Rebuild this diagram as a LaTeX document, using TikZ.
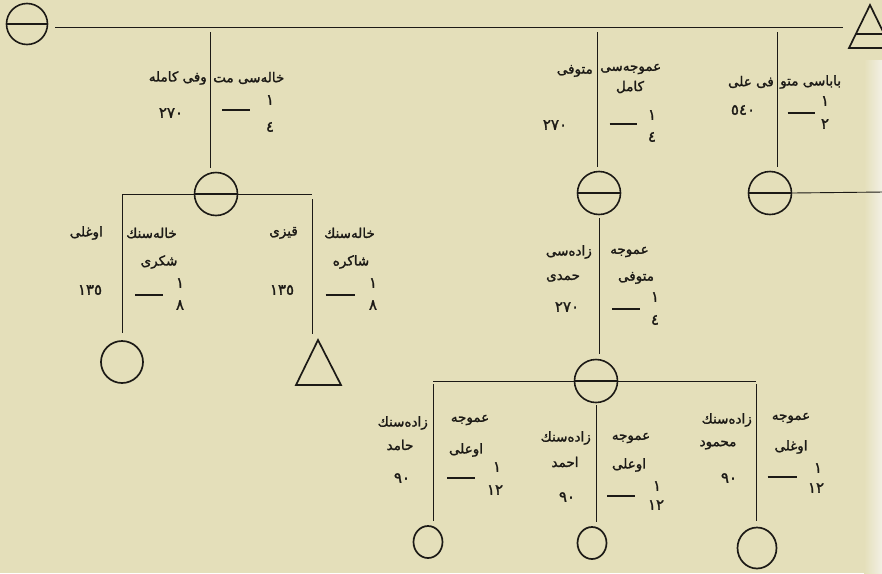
\documentclass[tikz,border=0pt]{standalone}
\usepackage{fontspec}
\usetikzlibrary{shapes.geometric}
\TeXXeTstate=1
\newfontfamily\arabicfont[Script=Arabic,FakeBold=1.6]{DejaVu Sans}
\definecolor{paper}{RGB}{228,223,186}
\definecolor{paperedge}{RGB}{242,240,228}
\definecolor{ink}{RGB}{28,26,22}
\begin{document}
\begin{tikzpicture}[x=1pt,y=-1pt,
  ln/.style={draw=ink,line width=0.9pt},
  fem/.style={circle,draw=ink,line width=1.6pt,minimum size=43pt,inner sep=0pt},
  dead/.style={path picture={\draw[ink,line width=1.4pt] (path picture bounding box.west) -- (path picture bounding box.east);}},
  kid/.style={ellipse,draw=ink,line width=1.7pt,inner sep=0pt},
  tri/.style={draw=ink,line width=1.7pt,line join=miter},
  ar/.style={font=\arabicfont\fontsize{13.5}{15}\selectfont,text=ink,inner sep=0pt},
  dg/.style={font=\arabicfont\fontsize{15}{16}\selectfont,text=ink,inner sep=0pt},
  fbar/.style={inner sep=0pt,text=ink}
]
\useasboundingbox (0,0) rectangle (882,573);
\fill[paper] (0,0) rectangle (882,573);
\shade[left color=paper,right color=paperedge] (864,60) rectangle (882,573);

% ---------- top generation ----------
\node[fem,dead,minimum size=41pt] (c0) at (27,24) {};
\coordinate (tA) at (870,5);
\draw[tri] (tA) -- (849,48) -- (891,48) -- cycle;
\draw[ink,line width=1.4pt] (855.8,34) -- (884.2,34);
\coordinate (tStart) at (55,27);
\coordinate (tEnd) at (843,27);
\draw[ln] (tStart) -- (tEnd);

\coordinate (j1) at (210,27);
\coordinate (j2) at (597,27);
\coordinate (j3) at (777,27);

\node[fem,dead] (c1) at (216,194) {};
\node[fem,dead] (cA) at (599,193) {};
\node[fem,dead] (cB) at (770,193) {};
\node[fem,dead] (cC) at (596,381) {};

\draw[ln,shorten <=5pt,shorten >=4pt] (j1) -- (j1 |- c1.north);
\draw[ln,shorten <=5pt,shorten >=4pt] (j2) -- (j2 |- cA.north);
\draw[ln,shorten <=5pt,shorten >=4pt] (j3) -- (j3 |- cB.north);
\coordinate (rEdge) at (884,192);
\draw[ln] (cB.east) -- (rEdge);

% ---------- group 1 ----------
\node[ar,anchor=west] (g1r) at (213,78) {\beginR خالە^^^^200cسی مت\endR};
\node[ar,anchor=east] (g1l) at (207,78) {\beginR وفی كامله\endR};
\node[dg] (g1n) at (171,113) {٢٧٠};
\node[fbar] (g1b) at (236,110) {\rule{28pt}{1.5pt}};
\node[dg] (g1u) at (270,100) {١};
\node[dg] (g1d) at (270,127) {٤};

% ---------- group 2 ----------
\node[ar,anchor=west] (g2r) at (600,69) {\beginR عموجە^^^^200cسی\endR};
\node[ar] (g2r2) at (630,87) {\beginR كامل\endR};
\node[ar,anchor=east] (g2l) at (593,71) {\beginR متوفی\endR};
\node[dg] (g2n) at (555,125) {٢٧٠};
\node[fbar] (g2b) at (623,124) {\rule{27pt}{1.5pt}};
\node[dg] (g2u) at (652,115) {١};
\node[dg] (g2d) at (652,137) {٤};

% ---------- group 3 ----------
\node[ar,anchor=west] (g3r) at (780,82) {\beginR باباسی متو\endR};
\node[ar,anchor=east] (g3l) at (774,82) {\beginR فی علی\endR};
\node[dg] (g3n) at (743,110) {٥٤٠};
\node[fbar] (g3b) at (801,113) {\rule{27pt}{1.5pt}};
\node[dg] (g3u) at (825,101) {١};
\node[dg] (g3d) at (825,124) {٢};

% ---------- second generation, left ----------
\node[kid,minimum width=42pt,minimum height=42pt] (d1) at (122,362) {};
\coordinate (d2) at (318,340);
\draw[tri] (d2) -- (296,385) -- (341,385) -- cycle;
\coordinate (k1) at (122,194);
\coordinate (k2) at (312,194);
\draw[ln] (c1.west) -- (k1);
\draw[ln,shorten >=7pt] (k1) -- (d1.north);
\draw[ln] (c1.east) -- (k2);
\draw[ln,shorten <=5pt,shorten >=6pt] (k2) -- (k2 |- d2);

\node[ar,anchor=west] (g4r) at (126,233) {\beginR خالە^^^^200cسنك\endR};
\node[ar] (g4r2) at (159,262) {\beginR شكری\endR};
\node[ar,anchor=east] (g4l) at (103,233) {\beginR اوغلی\endR};
\node[dg] (g4n) at (90,290) {١٣٥};
\node[fbar] (g4b) at (149,295) {\rule{28pt}{1.5pt}};
\node[dg] (g4u) at (180,283) {١};
\node[dg] (g4d) at (180,305) {٨};

\node[ar,anchor=west] (g5r) at (324,233) {\beginR خالە^^^^200cسنك\endR};
\node[ar] (g5r2) at (351,262) {\beginR شاكره\endR};
\node[ar,anchor=east] (g5l) at (298,233) {\beginR قیزی\endR};
\node[dg] (g5n) at (282,290) {١٣٥};
\node[fbar] (g5b) at (340,295) {\rule{29pt}{1.5pt}};
\node[dg] (g5u) at (373,283) {١};
\node[dg] (g5d) at (373,305) {٨};

% ---------- middle line ----------
\draw[ln,shorten <=3pt,shorten >=5pt] (cA.south) -- (cA.south |- cC.north);
\node[ar,anchor=west] (g7r) at (610,252) {\beginR عموجه\endR};
\node[ar] (g7r2) at (636,278) {\beginR متوفی\endR};
\node[ar,anchor=east] (g7l) at (592,252) {\beginR زادە^^^^200cسی\endR};
\node[ar] (g7l2) at (563,278) {\beginR حمدی\endR};
\node[dg] (g7n) at (567,307) {٢٧٠};
\node[fbar] (g7b) at (626,309) {\rule{28pt}{1.5pt}};
\node[dg] (g7u) at (655,297) {١};
\node[dg] (g7d) at (655,320) {٤};

% ---------- bottom generation ----------
\node[kid,minimum width=29pt,minimum height=32pt] (e1) at (428,542) {};
\node[kid,minimum width=29pt,minimum height=32pt] (e2) at (592,543) {};
\node[kid,minimum width=39pt,minimum height=41pt] (e3) at (757,548) {};
\coordinate (m1) at (433,381);
\coordinate (m3) at (756,381);
\draw[ln] (cC.west) -- (m1);
\draw[ln,shorten <=3pt,shorten >=4pt] (m1) -- (m1 |- e1.north);
\draw[ln,shorten <=2pt,shorten >=4pt] (cC.south) -- (cC.south |- e2.north);
\draw[ln] (cC.east) -- (m3);
\draw[ln,shorten <=3pt,shorten >=6pt] (m3) -- (m3 |- e3.north);

\node[ar,anchor=east] (g8l) at (428,423) {\beginR زادە^^^^200cسنك\endR};
\node[ar] (g8l2) at (400,445) {\beginR حامد\endR};
\node[dg] (g8n) at (402,478) {٩٠};
\node[ar] (g8r) at (470,420) {\beginR عموجه\endR};
\node[ar] (g8r2) at (466,450) {\beginR اوعلی\endR};
\node[fbar] (g8b) at (461,478) {\rule{28pt}{1.5pt}};
\node[dg] (g8u) at (497,467) {١};
\node[dg] (g8d) at (495,490) {١٢};

\node[ar,anchor=east] (g9l) at (591,438) {\beginR زادە^^^^200cسنك\endR};
\node[ar] (g9l2) at (565,462) {\beginR احمد\endR};
\node[dg] (g9n) at (567,497) {٩٠};
\node[ar] (g9r) at (631,438) {\beginR عموجه\endR};
\node[ar] (g9r2) at (629,465) {\beginR اوعلی\endR};
\node[fbar] (g9b) at (621,496) {\rule{28pt}{1.5pt}};
\node[dg] (g9u) at (657,486) {١};
\node[dg] (g9d) at (656,505) {١٢};

\node[ar,anchor=east] (g10l) at (752,420) {\beginR زادە^^^^200cسنك\endR};
\node[ar] (g10l2) at (718,445) {\beginR محمود\endR};
\node[dg] (g10n) at (729,478) {٩٠};
\node[ar] (g10r) at (791,418) {\beginR عموجه\endR};
\node[ar] (g10r2) at (791,447) {\beginR اوغلی\endR};
\node[fbar] (g10b) at (782,477) {\rule{29pt}{1.5pt}};
\node[dg] (g10u) at (818,468) {١};
\node[dg] (g10d) at (816,488) {١٢};
\end{tikzpicture}
\end{document}
